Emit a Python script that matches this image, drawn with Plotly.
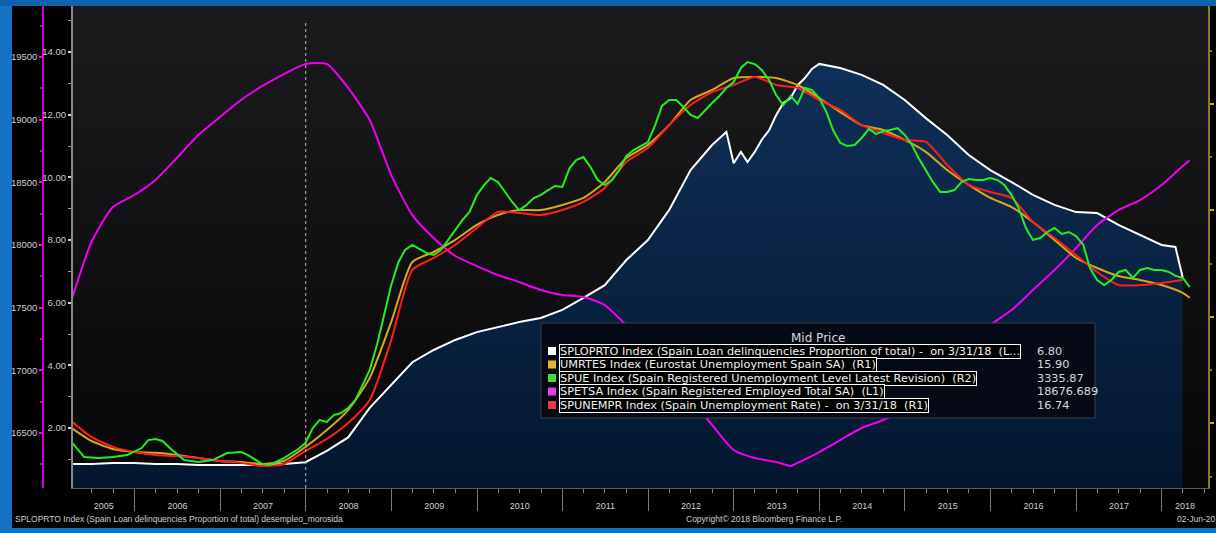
import plotly.graph_objects as go
import pandas as pd

# ---------------- data ----------------
white_dates = ["2005-03","2005-06","2005-09","2005-12","2006-03","2006-06","2006-09","2006-12",
               "2007-03","2007-06","2007-09","2007-12","2008-03","2008-06","2008-09","2008-12",
               "2009-03","2009-06","2009-09","2009-12","2010-03","2010-06","2010-09","2010-12",
               "2011-03","2011-06","2011-09","2011-12","2012-03","2012-06","2012-09","2012-11",
               "2012-12","2013-01","2013-02","2013-03","2013-04","2013-05","2013-06","2013-07",
               "2013-08","2013-09","2013-10","2013-11","2013-12","2014-03","2014-06","2014-09",
               "2014-12","2015-03","2015-06","2015-09","2015-12","2016-03","2016-06","2016-09",
               "2016-12","2017-03","2017-06","2017-09","2017-12","2018-02","2018-03"]
white_vals = [0.85,0.85,0.88,0.88,0.85,0.85,0.82,0.82,
              0.82,0.82,0.85,0.91,1.27,1.70,2.64,3.37,
              4.10,4.49,4.81,5.06,5.22,5.38,5.51,5.77,
              6.15,6.56,7.36,8.00,8.96,10.23,11.03,11.45,
              10.45,10.81,10.49,10.81,11.20,11.50,11.98,12.37,
              12.53,12.94,13.17,13.46,13.62,13.49,13.27,12.95,
              12.47,11.89,11.35,10.71,10.23,9.85,9.44,9.12,
              8.89,8.86,8.48,8.16,7.84,7.78,6.80]

magenta_dates = ["2005-03","2005-06","2005-09","2005-12","2006-03","2006-06","2006-09","2006-12",
                 "2007-03","2007-06","2007-09","2007-12","2008-03","2008-06","2008-09","2008-12",
                 "2009-03","2009-06","2009-09","2009-12","2010-03","2010-06","2010-09","2010-12",
                 "2011-03","2011-06","2011-09","2011-12","2012-03","2012-06","2012-09","2012-12",
                 "2013-03","2013-06","2013-08","2013-09","2013-12","2014-03","2014-06","2014-09",
                 "2014-12","2015-03","2015-06","2015-09","2015-12","2016-03","2016-06","2016-09",
                 "2016-12","2017-03","2017-06","2017-09","2017-12","2018-03","2018-04"]
magenta_vals = [17520,18020,18303,18399,18519,18694,18878,19021,
                19157,19269,19364,19444,19444,19253,18997,18558,
                18239,18056,17912,17832,17761,17705,17641,17601,
                17585,17521,17362,17226,16963,16763,16564,16364,
                16300,16269,16237,16261,16348,16444,16540,16604,
                16683,16779,16987,17202,17362,17481,17641,17800,
                17976,18160,18279,18359,18479,18630,18677]

yellow_dates = ["2005-03","2005-06","2005-09","2005-12","2006-03","2006-06","2006-09","2006-12",
                "2007-03","2007-06","2007-09","2007-12","2008-03","2008-06","2008-09","2008-12",
                "2009-03","2009-06","2009-09","2009-12","2010-03","2010-06","2010-09","2010-12",
                "2011-03","2011-06","2011-09","2011-12","2012-03","2012-06","2012-09","2012-12",
                "2013-03","2013-06","2013-09","2013-12","2014-03","2014-06","2014-09","2014-12",
                "2015-03","2015-06","2015-09","2015-12","2016-03","2016-06","2016-09","2016-12",
                "2017-03","2017-06","2017-09","2017-12","2018-03","2018-04"]
yellow_vals = [9.84,9.18,8.80,8.66,8.62,8.52,8.38,8.24,
               8.19,8.10,8.24,8.90,9.69,10.63,12.14,14.77,
               17.58,18.05,18.62,19.32,19.79,20.02,20.02,20.26,
               20.59,21.34,22.46,23.08,24.01,25.19,25.66,26.22,
               26.27,26.22,25.89,25.28,24.62,24.01,23.78,23.31,
               22.75,21.90,21.20,20.59,20.16,19.46,18.62,17.77,
               17.30,16.92,16.74,16.50,16.13,15.90]

red_dates = yellow_dates[:-1]
red_vals = [10.16,9.37,8.90,8.66,8.52,8.47,8.38,8.24,
            8.15,8.00,8.10,8.71,9.27,10.02,11.10,13.92,
            17.21,17.77,18.38,19.18,19.93,19.88,19.79,20.02,
            20.40,21.06,22.28,22.93,24.01,24.95,25.56,25.89,
            26.27,25.89,25.75,25.19,24.72,24.01,23.64,23.31,
            23.22,22.14,21.20,20.87,20.59,19.46,18.71,17.91,
            17.11,16.50,16.50,16.60,16.74]

green_dates = ["2005-03","2005-05","2005-07","2005-09","2005-11","2006-01","2006-02","2006-03",
               "2006-04","2006-05","2006-07","2006-09","2006-11","2007-01","2007-03","2007-04",
               "2007-06","2007-07","2007-09","2007-11","2007-12","2008-01","2008-02","2008-03",
               "2008-04","2008-05","2008-06","2008-07","2008-08","2008-09","2008-10","2008-11",
               "2008-12","2009-01","2009-02","2009-03","2009-04","2009-05","2009-06","2009-07",
               "2009-08","2009-09","2009-10","2009-11","2009-12","2010-01","2010-02","2010-03",
               "2010-04","2010-05","2010-06","2010-07","2010-08","2010-09","2010-10","2010-11",
               "2010-12","2011-01","2011-02","2011-03","2011-04","2011-05","2011-06","2011-07",
               "2011-08","2011-09","2011-10","2011-11","2011-12","2012-01","2012-02","2012-03",
               "2012-04","2012-05","2012-06","2012-07","2012-08","2012-09","2012-10","2012-11",
               "2012-12","2013-01","2013-02","2013-03","2013-04","2013-05","2013-06","2013-07",
               "2013-08","2013-09","2013-10","2013-11","2013-12","2014-01","2014-02","2014-03",
               "2014-04","2014-05","2014-06","2014-07","2014-08","2014-09","2014-10","2014-11",
               "2014-12","2015-01","2015-02","2015-03","2015-04","2015-05","2015-06","2015-07",
               "2015-08","2015-09","2015-10","2015-11","2015-12","2016-01","2016-02","2016-03",
               "2016-04","2016-05","2016-06","2016-07","2016-08","2016-09","2016-10","2016-11",
               "2016-12","2017-01","2017-02","2017-03","2017-04","2017-05","2017-06","2017-07",
               "2017-08","2017-09","2017-10","2017-11","2017-12","2018-01","2018-02","2018-03",
               "2018-04"]
green_vals = [2204,2078,2071,2078,2093,2145,2204,2212,
              2197,2145,2056,2042,2056,2108,2116,2093,
              2027,2020,2071,2138,2182,2293,2352,2338,
              2389,2404,2441,2500,2611,2722,2907,3129,
              3351,3521,3610,3647,3617,3587,3573,3610,
              3684,3758,3832,3891,4016,4090,4142,4113,
              4039,3965,3905,3942,3994,4016,4053,4083,
              4076,4216,4275,4297,4224,4127,4090,4127,
              4201,4305,4349,4379,4408,4534,4675,4719,
              4719,4667,4608,4586,4645,4697,4749,4808,
              4852,4956,5000,4985,4941,4867,4756,4682,
              4749,4690,4808,4793,4734,4630,4497,4401,
              4379,4386,4438,4505,4467,4490,4497,4512,
              4460,4386,4290,4201,4113,4039,4039,4053,
              4113,4135,4127,4127,4142,4127,4090,4016,
              3920,3772,3684,3698,3743,3772,3728,3743,
              3713,3647,3477,3388,3351,3388,3447,3462,
              3403,3462,3477,3462,3462,3447,3418,3403,
              3336]

years = list(range(2005, 2019))
x_range = ["2005-04-13", "2018-07-17"]

left_ticks = [2, 4, 6, 8, 10, 12, 14]
l1_ticks = [16500, 17000, 17500, 18000, 18500, 19000, 19500]
r1_ticks = [10, 15, 20, 25]

legend_labels = [
    "SPLOPRTO Index (Spain Loan delinquencies Proportion of total) -\u00a0 on 3/31/18\u00a0 (L...",
    "UMRTES Index (Eurostat Unemployment Spain SA)\u00a0 (R1)",
    "SPUE Index (Spain Registered Unemployment Level Latest Revision)\u00a0 (R2)",
    "SPETSA Index (Spain Registered Employed Total SA)\u00a0 (L1)",
    "SPUNEMPR Index (Spain Unemployment Rate) -\u00a0 on 3/31/18\u00a0 (R1)",
]
legend_values = ["6.80", "15.90", "3335.87", "18676.689", "16.74"]
legend_colors = ["#ffffff", "#e0b830", "#3de03d", "#e040e0", "#e83a3a"]

# ---------------- geometry helpers ----------------
W, H = 1216, 533
ML, MR, MT, MB = 12, 8, 6, 45
PW, PH = W - ML - MR, H - MT - MB


def px(x):
    return (x - ML) / PW


def py(y):
    return (H - MB - y) / PH


def me(dates):
    return pd.to_datetime(dates) + pd.offsets.MonthEnd(0)


FONT = "Liberation Sans"
LFONT = "DejaVu Sans"
LBL = "#cfcfcf"

fig = go.Figure()

# SPLOPRTO area + line (L2)
fig.add_trace(go.Scatter(
    x=me(white_dates), y=white_vals, mode="lines", fill="tozeroy",
    line=dict(color="#ffffff", width=2),
    fillgradient=dict(type="vertical", start=0, stop=14,
                      colorscale=[[0, "#03162e"], [1, "#10305a"]]),
    xaxis="x", yaxis="y", hoverinfo="skip", showlegend=False))
# SPETSA (L1)
fig.add_trace(go.Scatter(x=me(magenta_dates), y=magenta_vals, mode="lines",
                         line=dict(color="#f000f0", width=2, shape="spline", smoothing=0.6),
                         xaxis="x", yaxis="y2", showlegend=False))
# UMRTES (R1)
fig.add_trace(go.Scatter(x=me(yellow_dates), y=yellow_vals, mode="lines",
                         line=dict(color="#d8a81c", width=2, shape="spline", smoothing=0.6),
                         xaxis="x", yaxis="y3", showlegend=False))
# SPUNEMPR (R1)
fig.add_trace(go.Scatter(x=me(red_dates), y=red_vals, mode="lines",
                         line=dict(color="#ff1e1e", width=2, shape="spline", smoothing=0.6),
                         xaxis="x", yaxis="y3", showlegend=False))
# SPUE (R2)
fig.add_trace(go.Scatter(x=me(green_dates), y=green_vals, mode="lines",
                         line=dict(color="#22ee22", width=2),
                         xaxis="x", yaxis="y4", showlegend=False))
# helper trace for the label axis
fig.add_trace(go.Scatter(x=[], y=[], xaxis="x2", yaxis="y", showlegend=False))

# year label positions: centre of the visible part of each year
rs, re_ = pd.Timestamp(x_range[0]), pd.Timestamp(x_range[1])
lab_pos = []
for yv in years:
    a = max(rs, pd.Timestamp(f"{yv}-01-01"))
    b = min(re_, pd.Timestamp(f"{yv+1}-01-01"))
    lab_pos.append(a + (b - a) / 2)

xd0 = px(73)
fig.update_layout(
    width=W, height=H,
    margin=dict(l=ML, r=MR, t=MT, b=MB, autoexpand=False),
    paper_bgcolor="#000000", plot_bgcolor="#161618",
    showlegend=False,
    font=dict(family=FONT, color=LBL, size=10),
    xaxis=dict(type="date", domain=[xd0, 1], range=x_range, automargin=False,
               tickvals=[f"{yv}-01-01" for yv in years[1:]],
               ticks="outside", ticklen=22, tickcolor="#7a7a7a", tickwidth=1,
               showticklabels=False, showgrid=False, zeroline=False,
               showline=True, linecolor="#5a5a5a", linewidth=1,
               minor=dict(dtick="M3", tick0="2005-01-01", ticks="outside",
                          ticklen=4, tickcolor="#8a8a8a", showgrid=False)),
    xaxis2=dict(type="date", domain=[xd0, 1], range=x_range, overlaying="x", automargin=False,
                anchor="y", side="bottom", tickvals=lab_pos, ticktext=[str(v) for v in years],
                ticks="", showgrid=False, showline=False, zeroline=False,
                ticklabelstandoff=11, tickfont=dict(size=9, color=LBL)),
    yaxis=dict(range=[0.085, 15.468], automargin=False, tickvals=left_ticks,
               ticktext=["%.2f" % v for v in left_ticks],
               ticks="outside", ticklen=3, tickwidth=2, tickcolor="#d0d0d0",
               showline=True, linecolor="#8a8a8a", linewidth=2,
               showgrid=False, zeroline=False, tickfont=dict(size=9.5, color=LBL),
               minor=dict(tickvals=[1, 3, 5, 7, 9, 11, 13, 15], ticks="outside",
                          ticklen=3, tickcolor="#9a9a9a", tickwidth=1, showgrid=False)),
    yaxis2=dict(range=[16061.2, 19906.9], overlaying="y", anchor="free", side="left",
                automargin=False, position=px(43), tickvals=l1_ticks,
                ticktext=[str(v) for v in l1_ticks],
                ticks="outside", ticklen=3, tickwidth=2, tickcolor="#ff00ff",
                showline=True, linecolor="#d000d0", linewidth=1.5,
                showgrid=False, zeroline=False, tickfont=dict(size=9.5, color=LBL),
                minor=dict(tickvals=[16250, 16750, 17250, 17750, 18250, 18750, 19250, 19750],
                           ticks="outside", ticklen=2, tickcolor="#c000c0", showgrid=False)),
    yaxis3=dict(range=[6.97, 29.60], overlaying="y", anchor="x", side="right",
                automargin=False, tickvals=r1_ticks, ticktext=["%.2f" % v for v in r1_ticks],
                ticks="outside", ticklen=4, tickwidth=2, tickcolor="#c8a830",
                showline=True, linecolor="#8c7a1e", linewidth=1.5,
                showgrid=False, zeroline=False, tickfont=dict(size=9.5, color="#9cc4ee"),
                minor=dict(tickvals=[7.5, 12.5, 17.5, 22.5, 27.5], ticks="outside",
                           ticklen=2, tickcolor="#8c7a1e", showgrid=False)),
    yaxis4=dict(range=[1849.4, 5414.3], overlaying="y", anchor="x", side="right",
                automargin=False, visible=False),
)

shapes = []
# plot background gradient (top lighter, bottom darker)
nb = 24
for i in range(nb):
    f = i / (nb - 1)
    c0 = (27, 27, 29)
    c1 = (7, 7, 9)
    col = "rgb(%d,%d,%d)" % tuple(round(c0[k] + (c1[k] - c0[k]) * f) for k in range(3))
    shapes.append(dict(type="rect", xref="x domain", yref="y domain",
                       x0=0, x1=1, y0=1 - (i + 1) / nb, y1=1 - i / nb,
                       fillcolor=col, line=dict(width=0), layer="below"))
# dotted marker line at start of 2008
shapes.append(dict(type="line", xref="x", yref="paper", x0="2008-01-01", x1="2008-01-01",
                   y0=0, y1=py(22), line=dict(color="#bcbcbc", width=1, dash="dot"),
                   layer="above"))
# window frame (blue)
blue = "#1573c4"
shapes.append(dict(type="rect", xref="paper", yref="paper", x0=px(0), x1=px(12), y0=py(533),
                   y1=py(0), fillcolor=blue, line=dict(width=0)))
shapes.append(dict(type="rect", xref="paper", yref="paper", x0=px(0), x1=px(1216), y0=py(6),
                   y1=py(0), fillcolor="#0f62ae", line=dict(width=0)))
shapes.append(dict(type="rect", xref="paper", yref="paper", x0=px(0), x1=px(1216), y0=py(533),
                   y1=py(528), fillcolor=blue, line=dict(width=0)))

# legend panel
shapes.append(dict(type="rect", xref="paper", yref="paper", x0=px(541), x1=px(1095),
                   y0=py(418), y1=py(323), fillcolor="#050a16",
                   line=dict(color="#3a3f4a", width=1)))
row_y = [351, 364.5, 378, 391.5, 405]
annotations = []
annotations.append(dict(xref="paper", yref="paper", x=px(818), y=py(338), text="Mid Price",
                        showarrow=False, xanchor="center", yanchor="middle",
                        font=dict(family=LFONT, size=12, color="#d8d8d8")))
for i in range(5):
    yy = row_y[i]
    shapes.append(dict(type="rect", xref="paper", yref="paper", x0=px(548), x1=px(556),
                       y0=py(yy + 4), y1=py(yy - 4), fillcolor=legend_colors[i],
                       line=dict(width=0)))
    annotations.append(dict(xref="paper", yref="paper", x=px(559), y=py(yy),
                            text=legend_labels[i], showarrow=False, xanchor="left",
                            yanchor="middle", align="left",
                            bgcolor="#000000", bordercolor="#ffffff", borderwidth=1,
                            borderpad=0,
                            font=dict(family=LFONT, size=11.3, color="#f0f0f0")))
    annotations.append(dict(xref="paper", yref="paper", x=px(1035), y=py(yy),
                            text=legend_values[i], showarrow=False, xanchor="left",
                            yanchor="middle",
                            font=dict(family=LFONT, size=11.3, color="#d8d8d8")))

# footer texts
annotations.append(dict(xref="paper", yref="paper", x=px(13), y=py(519), showarrow=False,
                        xanchor="left", yanchor="middle",
                        text="SPLOPRTO Index (Spain Loan delinquencies Proportion of total) desempleo_morosida",
                        font=dict(family=FONT, size=8.5, color=LBL)))
annotations.append(dict(xref="paper", yref="paper", x=px(764), y=py(519), showarrow=False,
                        xanchor="center", yanchor="middle",
                        text="Copyright\u00a9 2018 Bloomberg Finance L.P.",
                        font=dict(family=FONT, size=8.5, color=LBL)))
annotations.append(dict(xref="paper", yref="paper", x=px(1175), y=py(519), showarrow=False,
                        xanchor="left", yanchor="middle", text="02-Jun-2018",
                        font=dict(family=FONT, size=8.5, color=LBL)))

fig.update_layout(shapes=shapes, annotations=annotations)
fig.write_html("out.html")
